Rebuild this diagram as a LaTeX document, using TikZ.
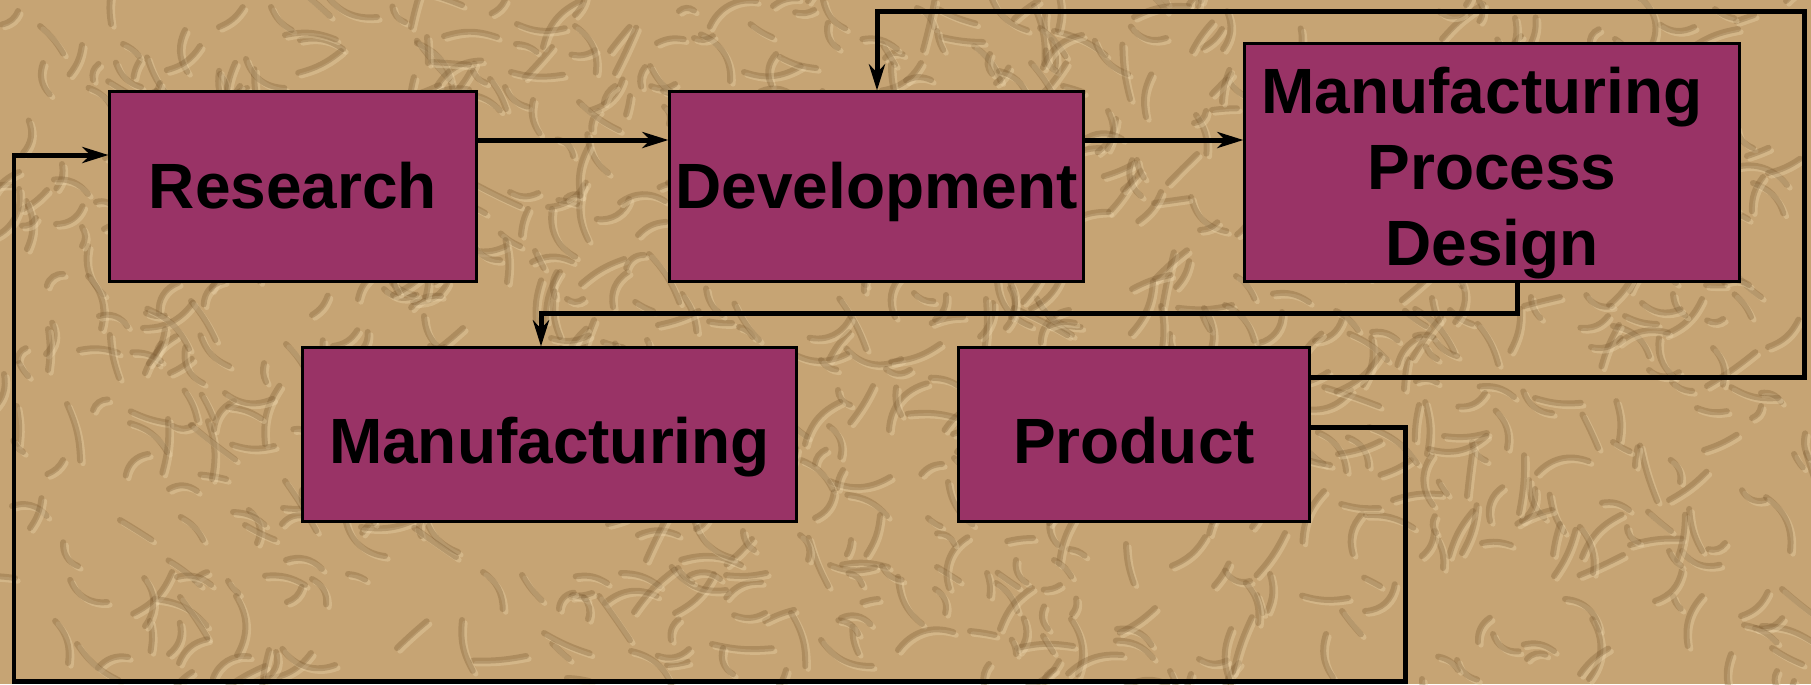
\documentclass[tikz,border=0pt]{standalone}
\usepackage{fontspec}
\setmainfont{Liberation Sans}
\usetikzlibrary{arrows.meta}
\definecolor{boxfill}{HTML}{993366}
\definecolor{paper}{HTML}{C6A474}
\definecolor{crease}{HTML}{7A5A32}
\definecolor{ridge}{HTML}{EED8AE}
\begin{document}
\begin{tikzpicture}[x=0.01cm, y=-0.01cm,
  stage/.style={draw=black, line width=0.85pt, fill=boxfill, inner sep=0pt,
    font=\fontsize{18.2pt}{21.6pt}\selectfont\bfseries, text=black, align=center},
  flow/.style={draw=black, line width=1.42pt,
    -{Stealth[length=0.26cm, width=0.16cm, inset=0.08cm]}}]
% crumpled paper background
\fill[paper] (0,0) rectangle (1811,684);
\useasboundingbox (0,0) rectangle (1811,684);
\pgfmathsetseed{42}
\foreach \i in {1,...,900}{
  \pgfmathsetmacro{\px}{random(0,1811)}
  \pgfmathsetmacro{\py}{random(0,684)}
  \pgfmathsetmacro{\ang}{random(0,359)}
  \pgfmathsetmacro{\len}{random(15,60)}
  \pgfmathsetmacro{\bnd}{random(-40,40)}
  \draw[ridge, opacity=0.35, line width=1.5pt, line cap=round]
    (\px+3,\py+3) to[bend left=\bnd] ++(\ang:\len);
  \draw[crease, opacity=0.32, line width=1.7pt, line cap=round]
    (\px,\py) to[bend left=\bnd] ++(\ang:\len);
}

% process stages
\node[stage, minimum width=3.66cm, minimum height=1.89cm,
  text height=0.46cm, text depth=0.03cm] (res) at (293,186.5) {Research};
\node[stage, minimum width=4.13cm, minimum height=1.89cm,
  text height=0.46cm, text depth=0.03cm] (dev) at (876.5,186.5) {Development};
\node[stage, minimum width=4.94cm, minimum height=2.37cm,
  text height=2.18cm, text depth=0.13cm] (mpd) at (1492,162.5)
  {Manufacturing\hspace*{0.2cm}\\Process\\Design};
\node[stage, minimum width=4.93cm, minimum height=1.73cm,
  text height=0.60cm, text depth=0.03cm] (man) at (549.5,434.5) {Manufacturing};
\node[stage, minimum width=3.50cm, minimum height=1.73cm,
  text height=0.60cm, text depth=0.03cm] (prod) at (1134,434.5) {Product};

% bend points of the connectors
\coordinate (row) at (0,140);
\coordinate (a1) at (1517,313);
\coordinate (a2) at (541,313);
\coordinate (b1) at (1804,377);
\coordinate (b2) at (1804,11);
\coordinate (b3) at (877,11);
\coordinate (c1) at (1405,427);
\coordinate (c2) at (1405,681);
\coordinate (c3) at (14,681);
\coordinate (c4) at (14,155);

% connectors
\draw[flow] (res.east |- row) -- (dev.west |- row);
\draw[flow] (dev.east |- row) -- (mpd.west |- row);
\draw[flow] (mpd.south -| a1) -- (a1) -- (a2) -- (man.north -| a2);
\draw[flow] (prod.east |- b1) -- (b1) -- (b2) -- (b3) -- (dev.north -| b3);
\draw[flow] (prod.east |- c1) -- (c1) -- (c2) -- (c3) -- (c4) -- (res.west |- c4);
\end{tikzpicture}
\end{document}
